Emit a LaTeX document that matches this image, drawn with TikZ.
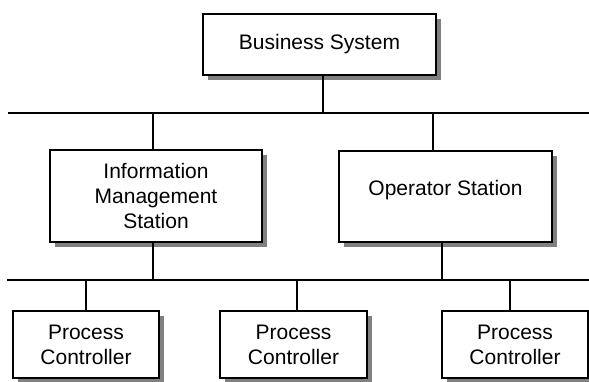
\documentclass[tikz,border=0pt]{standalone}
\usepackage{fontspec}
\setmainfont{Liberation Sans}
\usetikzlibrary{shadows}
\begin{document}
\begin{tikzpicture}[x=1pt,y=-1pt,line width=1.6pt,
  box/.style={draw=black,fill=white,rectangle,inner sep=0pt,align=center,
    font=\fontsize{21}{25}\selectfont,
    drop shadow={shadow xshift=5pt,shadow yshift=-5pt,fill=black!50,opacity=1}},
  wire/.style={draw=black,line width=1.6pt}]
\useasboundingbox (0,0) rectangle (589,381);
\node[box,minimum width=233pt,minimum height=61pt] (bs) at (319.5,44.5) {Business System};
\node[box,minimum width=212pt,minimum height=92pt] (ims) at (156,196) {Information\\Management\\Station};
\node[box,minimum width=213pt,minimum height=91pt] (os) at (445.5,196.5) {\raisebox{6pt}[\height][\depth]{Operator Station}};
\node[box,minimum width=146pt,minimum height=67pt] (pc1) at (86,344.5) {Process\\Controller};
\node[box,minimum width=147pt,minimum height=67pt] (pc2) at (293.5,344.5) {Process\\Controller};
\node[box,minimum width=146pt,minimum height=67pt] (pc3) at (515,344.5) {Process\\Controller};
% buses
\coordinate (busAL) at (8,113);
\coordinate (busAR) at (589,113);
\coordinate (busBL) at (7,280);
\coordinate (busBR) at (589,280);
\draw[wire] (busAL) -- (busAR);
\draw[wire] (busBL) -- (busBR);
% taps
\coordinate (t1) at (323,113);
\coordinate (t2) at (153,113);
\coordinate (t3) at (433,113);
\coordinate (t4) at (153,280);
\coordinate (t5) at (442,280);
\coordinate (t6) at (86,280);
\coordinate (t7) at (297,280);
\coordinate (t8) at (510,280);
\draw[wire] (t1 |- bs.south) -- (t1);
\draw[wire] (t2 |- ims.north) -- (t2);
\draw[wire] (t3 |- os.north) -- (t3);
\draw[wire] (t4 |- ims.south) -- (t4);
\draw[wire] (t5 |- os.south) -- (t5);
\draw[wire] (t6 |- pc1.north) -- (t6);
\draw[wire] (t7 |- pc2.north) -- (t7);
\draw[wire] (t8 |- pc3.north) -- (t8);
\end{tikzpicture}
\end{document}
